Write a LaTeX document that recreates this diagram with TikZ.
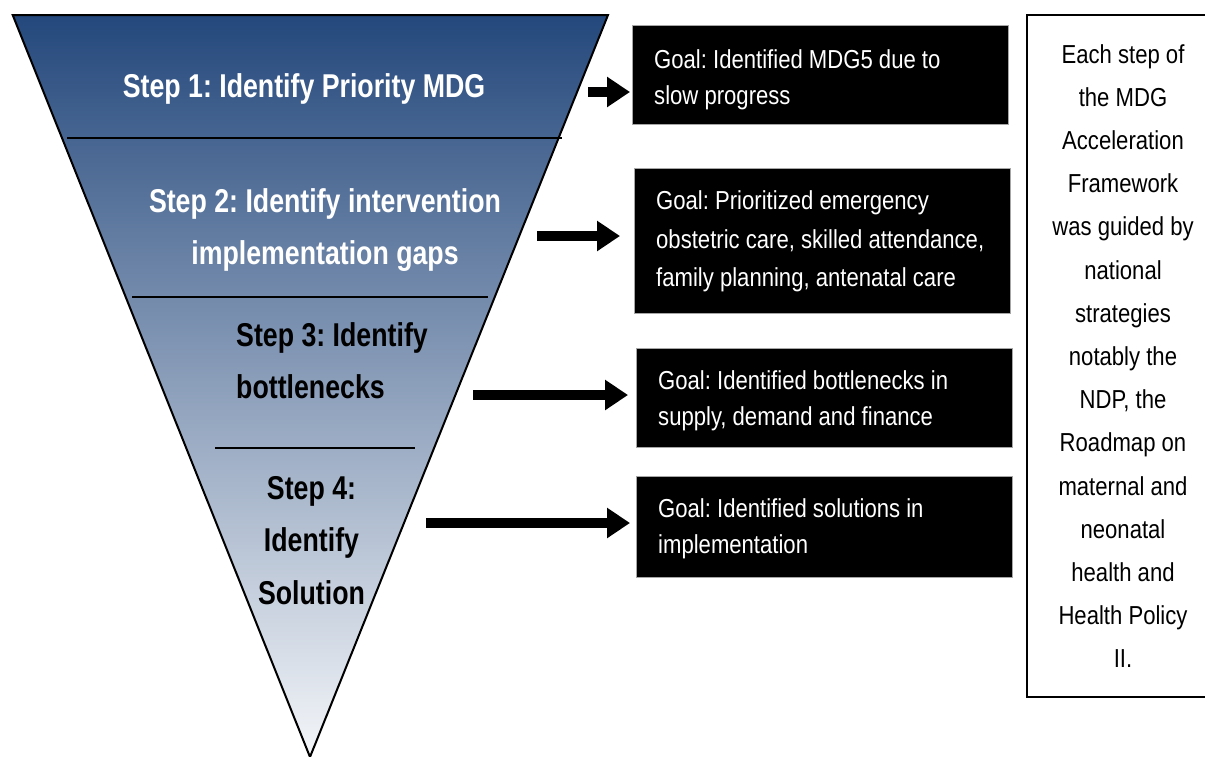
\documentclass[tikz,border=0pt]{standalone}
\usepackage{fontspec}
\setmainfont{Liberation Sans}
\newfontfamily\stepfont{Liberation Sans}[FakeStretch=0.81]
\newfontfamily\goalfont{Liberation Sans}[FakeStretch=0.85]
\usetikzlibrary{arrows.meta}
\definecolor{funneltop}{RGB}{36,72,124}
\definecolor{funnelmid}{RGB}{166,172,194}
\definecolor{funnelbot}{RGB}{244,246,249}
\frenchspacing
\begin{document}
\begin{tikzpicture}[x=1pt,y=-1pt,
  steptext/.style={font=\stepfont\bfseries\fontsize{33}{52.5}\selectfont, inner sep=0pt},
  goalbox/.style={fill=black, draw=gray!70, line width=0.8pt, inner sep=0pt, anchor=north west},
  goaltext/.style={font=\goalfont\fontsize{26}{36}\selectfont, text=white, align=left, inner sep=0pt, anchor=west},
  bigarrow/.style={line width=10pt, -{Triangle[length=23pt,width=29pt]}},
  divider/.style={line width=1.5pt},
  notebox/.style={draw=black, line width=1.5pt, inner sep=0pt, align=center,
    font=\goalfont\fontsize{26}{43.2}\selectfont},
]
\useasboundingbox (0,0) rectangle (1205,756);
\fill[white] (0,0) rectangle (1205,756);

% funnel
\shade[top color=funneltop, middle color=funnelmid, bottom color=funnelbot]
  (12.7,15) -- (608,15) -- (310,757) -- cycle;
\draw[line width=2pt, line join=miter] (12.7,15) -- (608,15) -- (310,757) -- cycle;

% dividers
\draw[divider] (67,138) -- (562,138);
\draw[divider] (132,297) -- (488,297);
\draw[divider] (215,448) -- (415,448);

% step labels
\node[steptext, text=white, anchor=base] (s1) at (304,97) {Step 1: Identify Priority MDG};
\node[steptext, text=white, align=center] (s2) at (325,230) {Step 2: Identify intervention\\implementation gaps};
\node[steptext, text=black, align=left, anchor=west] (s3) at (236,360.5) {Step 3: Identify\\bottlenecks};
\node[steptext, text=black, align=center] (s4) at (311.5,540.5) {Step 4:\\Identify\\Solution};

% goal boxes
\node[goalbox, minimum width=376pt, minimum height=99pt] (b1) at (632,25) {};
\node[goalbox, minimum width=376pt, minimum height=145pt] (b2) at (634,168) {};
\node[goalbox, minimum width=376pt, minimum height=99pt] (b3) at (636,348) {};
\node[goalbox, minimum width=376pt, minimum height=101pt] (b4) at (636,476) {};

\node[goaltext] (t1) at (654,79.5) {Goal: Identified MDG5 due to\\slow progress};
\node[goaltext, font=\goalfont\fontsize{26}{38.5}\selectfont] (t2) at (656,241.7) {Goal: Prioritized emergency\\obstetric care, skilled attendance,\\family planning, antenatal care};
\node[goaltext] (t3) at (658,400.7) {Goal: Identified bottlenecks in\\supply, demand and finance};
\node[goaltext] (t4) at (658,528.7) {Goal: Identified solutions in\\implementation};

% arrows
\coordinate (a1) at (588,92);
\coordinate (a2) at (537,236);
\coordinate (a3) at (473,395);
\coordinate (a4) at (426,523);
\draw[bigarrow, shorten >=2pt] (a1) -- (a1 -| b1.west);
\draw[bigarrow, shorten >=14pt] (a2) -- (a2 -| b2.west);
\draw[bigarrow, shorten >=8pt] (a3) -- (a3 -| b3.west);
\draw[bigarrow, shorten >=6pt] (a4) -- (a4 -| b4.west);

% note box
\node[notebox, minimum width=192pt, minimum height=682pt] (note) at (1123,356)
  {Each step of\\the MDG\\Acceleration\\Framework\\was guided by\\national\\strategies\\notably the\\NDP, the\\Roadmap on\\maternal and\\neonatal\\health and\\Health Policy\\II.};
\end{tikzpicture}
\end{document}
